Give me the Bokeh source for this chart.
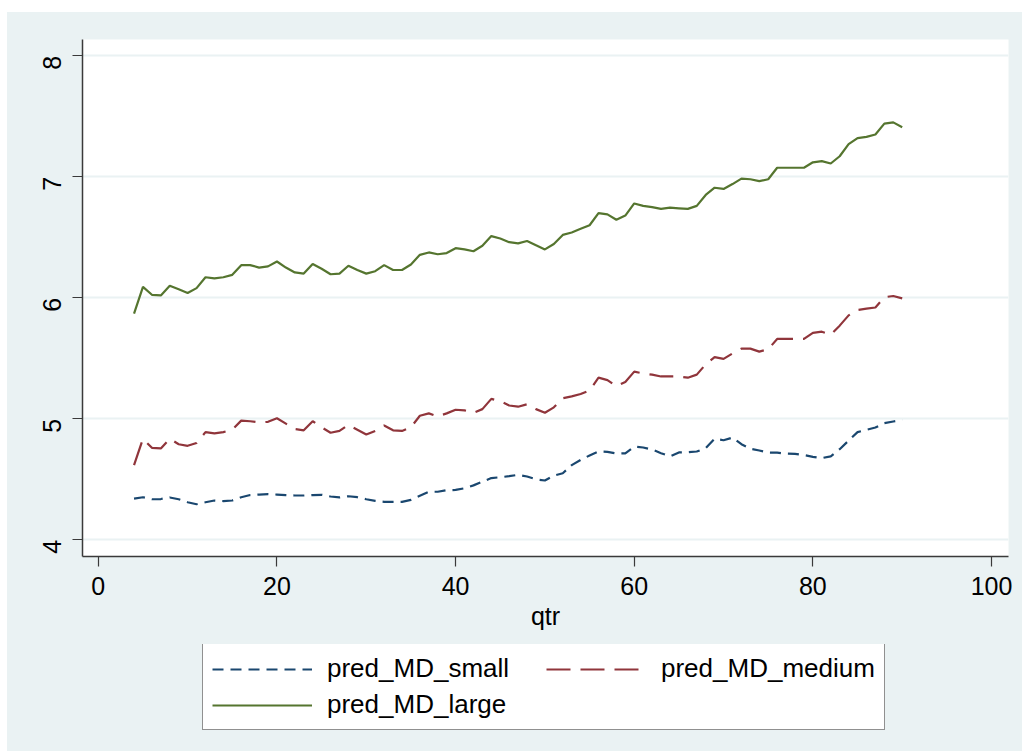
import math
from bokeh.plotting import figure
from bokeh.models import Legend, LegendItem, Range1d, FixedTicker, Spacer
from bokeh.layouts import column, row
from bokeh.embed import file_html
from bokeh.resources import INLINE

qtr = [4, 5, 6, 7, 8, 9, 10, 11, 12, 13,
       14, 15, 16, 17, 18, 19, 20, 21, 22, 23,
       24, 25, 26, 27, 28, 29, 30, 31, 32, 33,
       34, 35, 36, 37, 38, 39, 40, 41, 42, 43,
       44, 45, 46, 47, 48, 49, 50, 51, 52, 53,
       54, 55, 56, 57, 58, 59, 60, 61, 62, 63,
       64, 65, 66, 67, 68, 69, 70, 71, 72, 73,
       74, 75, 76, 77, 78, 79, 80, 81, 82, 83,
       84, 85, 86, 87, 88, 89, 90]

pred_MD_small = [4.341, 4.352, 4.335, 4.337, 4.35, 4.335, 4.31, 4.294, 4.31, 4.325,
                 4.32, 4.325, 4.352, 4.37, 4.374, 4.377, 4.374, 4.37, 4.366, 4.366,
                 4.37, 4.372, 4.358, 4.35, 4.36, 4.352, 4.335, 4.322, 4.314, 4.314,
                 4.314, 4.33, 4.364, 4.397, 4.397, 4.41, 4.412, 4.426, 4.45, 4.48,
                 4.51, 4.517, 4.526, 4.537, 4.523, 4.50, 4.49, 4.53, 4.55, 4.617,
                 4.66, 4.697, 4.73, 4.727, 4.713, 4.715, 4.77, 4.763, 4.746, 4.716,
                 4.69, 4.722, 4.724, 4.73, 4.757, 4.835, 4.823, 4.845, 4.79, 4.752,
                 4.738, 4.72, 4.72, 4.713, 4.71, 4.70, 4.686, 4.675, 4.69, 4.749,
                 4.82, 4.89, 4.909, 4.928, 4.964, 4.978, 4.99]

pred_MD_medium = [4.617, 4.835, 4.76, 4.755, 4.835, 4.79, 4.777, 4.80, 4.89, 4.88,
                  4.89, 4.91, 4.985, 4.98, 4.97, 4.975, 5.005, 4.96, 4.915, 4.905,
                  4.98, 4.93, 4.885, 4.90, 4.95, 4.91, 4.87, 4.90, 4.945, 4.905,
                  4.90, 4.93, 5.025, 5.045, 5.02, 5.045, 5.075, 5.07, 5.05, 5.08,
                  5.165, 5.145, 5.11, 5.10, 5.12, 5.08, 5.05, 5.095, 5.17, 5.185,
                  5.205, 5.235, 5.34, 5.32, 5.27, 5.305, 5.39, 5.375, 5.365, 5.35,
                  5.35, 5.35, 5.34, 5.365, 5.45, 5.51, 5.495, 5.54, 5.58, 5.58,
                  5.555, 5.575, 5.66, 5.66, 5.66, 5.66, 5.71, 5.72, 5.695, 5.77,
                  5.855, 5.90, 5.91, 5.92, 6.005, 6.015, 5.995]

pred_MD_large = [5.87, 6.09, 6.025, 6.02, 6.10, 6.07, 6.04, 6.08, 6.17, 6.16,
                 6.17, 6.19, 6.27, 6.27, 6.25, 6.26, 6.30, 6.25, 6.21, 6.20,
                 6.28, 6.24, 6.195, 6.20, 6.265, 6.23, 6.20, 6.22, 6.27, 6.23,
                 6.23, 6.275, 6.355, 6.375, 6.36, 6.37, 6.41, 6.40, 6.385, 6.43,
                 6.51, 6.49, 6.46, 6.45, 6.47, 6.435, 6.40, 6.445, 6.52, 6.54,
                 6.57, 6.60, 6.70, 6.69, 6.645, 6.68, 6.78, 6.76, 6.75, 6.735,
                 6.745, 6.74, 6.735, 6.76, 6.85, 6.91, 6.90, 6.94, 6.985, 6.98,
                 6.965, 6.98, 7.075, 7.075, 7.075, 7.075, 7.12, 7.13, 7.11, 7.17,
                 7.27, 7.32, 7.33, 7.35, 7.44, 7.45, 7.41]

x_ticks = [0, 20, 40, 60, 80, 100]
y_ticks = [4, 5, 6, 7, 8]
series_names = ["pred_MD_small", "pred_MD_medium", "pred_MD_large"]

BG = "#EAF2F3"
FONT = "Liberation Sans"
STYLES = [dict(line_color="#1A476F", line_width=2.2, line_dash="11 7"),
          dict(line_color="#90353B", line_width=2.2, line_dash="24 10"),
          dict(line_color="#55752F", line_width=2.2)]
SERIES = [pred_MD_small, pred_MD_medium, pred_MD_large]

# ---------------- main chart: page x 7..1022, y 12..644 ----------------
p = figure(width=1015, height=632, output_backend="svg", toolbar_location=None,
           x_range=Range1d(-1.77, 101.9), y_range=Range1d(3.862, 8.135),
           min_border_left=75, min_border_right=14, min_border_top=27,
           min_border_bottom=88)
p.background_fill_color = "white"
p.border_fill_color = BG
p.outline_line_color = None

for vals, st in zip(SERIES, STYLES):
    p.line(qtr, vals, **st)

p.xgrid.visible = False
p.ygrid.grid_line_color = BG
p.ygrid.grid_line_width = 2
p.ygrid.ticker = FixedTicker(ticks=y_ticks)

p.xaxis.ticker = FixedTicker(ticks=x_ticks)
p.yaxis.ticker = FixedTicker(ticks=y_ticks)
for ax in (p.xaxis[0], p.yaxis[0]):
    ax.axis_line_color = "#3a3a3a"
    ax.axis_line_width = 1.5
    ax.major_tick_line_color = "#3a3a3a"
    ax.major_tick_line_width = 1.2
    ax.major_tick_out = 10
    ax.major_tick_in = 0
    ax.minor_tick_line_color = None
    ax.major_label_text_font = FONT
    ax.major_label_text_font_size = "25px"
    ax.major_label_text_color = "black"
    ax.major_label_standoff = 10

p.yaxis.major_label_orientation = math.pi / 2
p.yaxis.major_label_standoff = 20
p.xaxis.axis_label = "qtr"
p.xaxis.axis_label_text_font = FONT
p.xaxis.axis_label_text_font_size = "25px"
p.xaxis.axis_label_text_font_style = "normal"
p.xaxis.axis_label_text_color = "black"
p.xaxis.axis_label_standoff = 4

# ---------------- legend strip: page y 644..751 ----------------
q = figure(width=1015, height=107, output_backend="svg", toolbar_location=None,
           x_range=Range1d(1000, 1001), y_range=Range1d(1000, 1001),
           x_axis_type=None, y_axis_type=None,
           min_border_left=0, min_border_right=0, min_border_top=0,
           min_border_bottom=0)
q.background_fill_color = BG
q.border_fill_color = BG
q.outline_line_color = None
q.grid.visible = False
rs = [q.line(qtr, vals, **st) for vals, st in zip(SERIES, STYLES)]

legend = Legend(items=[LegendItem(label=series_names[i], renderers=[rs[i]])
                       for i in range(3)],
                orientation="horizontal", ncols=2, location=(120, 21))
legend.label_text_font = FONT
legend.label_text_font_size = "26px"
legend.label_text_color = "black"
legend.glyph_width = 100
legend.label_standoff = 15
legend.label_width = 214
legend.spacing = 5
legend.padding = 9
legend.margin = 0
legend.border_line_color = "#222222"
legend.border_line_width = 1.2
legend.background_fill_color = "white"
legend.background_fill_alpha = 1
q.add_layout(legend, "center")

chart = column(p, q, styles={"background-color": BG})
layout = column(Spacer(height=12), row(Spacer(width=7), chart))
open("out.html", "w").write(file_html(layout, INLINE))
